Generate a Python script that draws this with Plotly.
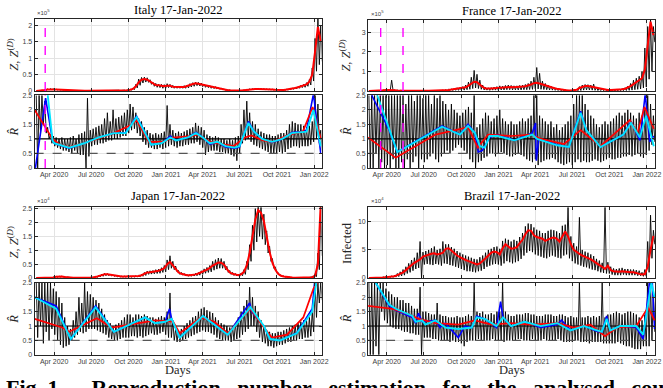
import pandas as pd
import plotly.graph_objects as go

W, H = 663, 388
WEEK0 = pd.Timestamp("2020-02-17")   # first weekly sample of the daily series

MONTH_TICKS = ["2020-04-01", "2020-07-01", "2020-10-01", "2021-01-01",
               "2021-04-01", "2021-07-01", "2021-10-01", "2022-01-01"]
MONTH_LABELS = ["Apr 2020", "Jul 2020", "Oct 2020", "Jan 2021",
                "Apr 2021", "Jul 2021", "Oct 2021", "Jan 2022"]

# ---------------- Italy ----------------
ITALY_Z_RED = [0.0, 0.003, 0.015, 0.03, 0.045, 0.055, 0.045, 0.04, 0.035, 0.03,
               0.02, 0.013, 0.009, 0.007, 0.005, 0.004, 0.003, 0.003, 0.002, 0.002,
               0.002, 0.002, 0.003, 0.003, 0.004, 0.005, 0.008, 0.012, 0.013, 0.014,
               0.015, 0.016, 0.02, 0.035, 0.06, 0.14, 0.26, 0.34, 0.36, 0.34,
               0.28, 0.22, 0.18, 0.17, 0.15, 0.14, 0.16, 0.16, 0.13, 0.12,
               0.12, 0.12, 0.12, 0.14, 0.18, 0.21, 0.23, 0.22, 0.2, 0.17,
               0.15, 0.13, 0.12, 0.1, 0.08, 0.06, 0.04, 0.03, 0.02, 0.013,
               0.009, 0.008, 0.01, 0.02, 0.035, 0.05, 0.055, 0.06, 0.06, 0.06,
               0.055, 0.05, 0.045, 0.04, 0.035, 0.03, 0.028, 0.03, 0.04, 0.05,
               0.07, 0.09, 0.11, 0.14, 0.16, 0.2, 0.28, 0.5, 1.2, 1.95,
               1.5]
ITALY_Z_HI = [0.002, 0.006, 0.02, 0.04, 0.06, 0.07, 0.06, 0.05, 0.045, 0.04,
              0.03, 0.02, 0.013, 0.01, 0.008, 0.006, 0.005, 0.004, 0.004, 0.003,
              0.003, 0.003, 0.004, 0.005, 0.006, 0.008, 0.012, 0.016, 0.018, 0.02,
              0.02, 0.022, 0.028, 0.05, 0.09, 0.2, 0.36, 0.41, 0.42, 0.4,
              0.34, 0.27, 0.23, 0.21, 0.2, 0.19, 0.22, 0.2, 0.17, 0.15,
              0.15, 0.15, 0.16, 0.18, 0.22, 0.25, 0.27, 0.26, 0.24, 0.21,
              0.18, 0.16, 0.15, 0.13, 0.1, 0.08, 0.055, 0.04, 0.028, 0.018,
              0.013, 0.012, 0.015, 0.028, 0.045, 0.06, 0.065, 0.07, 0.07, 0.07,
              0.065, 0.06, 0.055, 0.05, 0.045, 0.04, 0.036, 0.04, 0.05, 0.06,
              0.085, 0.11, 0.13, 0.17, 0.2, 0.25, 0.35, 0.7, 1.6, 2.3,
              2.0]
ITALY_Z_LO = [0.0, 0.001, 0.008, 0.018, 0.03, 0.04, 0.03, 0.028, 0.024, 0.02,
              0.012, 0.008, 0.005, 0.004, 0.003, 0.002, 0.002, 0.002, 0.001, 0.001,
              0.001, 0.001, 0.002, 0.002, 0.002, 0.003, 0.005, 0.007, 0.008, 0.009,
              0.01, 0.01, 0.013, 0.022, 0.04, 0.09, 0.17, 0.24, 0.27, 0.26,
              0.2, 0.14, 0.11, 0.1, 0.08, 0.08, 0.1, 0.1, 0.08, 0.08,
              0.08, 0.08, 0.08, 0.09, 0.12, 0.14, 0.16, 0.15, 0.13, 0.11,
              0.1, 0.08, 0.07, 0.06, 0.05, 0.04, 0.025, 0.018, 0.012, 0.008,
              0.005, 0.005, 0.006, 0.012, 0.022, 0.035, 0.04, 0.045, 0.045, 0.045,
              0.04, 0.035, 0.03, 0.028, 0.024, 0.02, 0.018, 0.02, 0.028, 0.035,
              0.05, 0.06, 0.08, 0.1, 0.11, 0.14, 0.18, 0.3, 0.6, 0.8,
              0.9]
ITALY_R_HI = [2.5, 2.5, 2.5, 2.3, 1.4, 1.15, 1.1, 1.05, 1.0, 1.05,
              1.0, 1.0, 1.05, 1.1, 1.0, 1.15, 1.2, 1.25, 2.4, 1.3,
              1.35, 1.4, 1.45, 1.5, 1.7, 1.9, 1.6, 2.0, 1.7, 1.75,
              1.8, 1.9, 2.0, 2.2, 2.1, 1.9, 1.7, 1.6, 1.4, 1.3,
              1.2, 1.15, 1.2, 1.15, 1.2, 1.25, 2.15, 1.5, 1.3, 1.2,
              1.25, 1.2, 1.25, 1.3, 1.35, 1.4, 1.55, 1.45, 1.4, 1.3,
              1.15, 1.1, 1.05, 1.1, 1.05, 1.0, 1.0, 0.95, 1.0, 0.95,
              1.05, 1.1, 1.5, 2.0, 2.3, 1.9, 1.6, 1.5, 1.35, 1.25,
              1.2, 1.15, 1.15, 1.1, 1.1, 1.15, 1.2, 1.2, 1.3, 1.5,
              1.6, 1.55, 1.5, 1.5, 1.45, 1.4, 1.45, 1.6, 2.5, 2.2,
              1.3]
ITALY_R_LO = [0.0, 1.2, 1.5, 1.2, 1.0, 0.85, 0.75, 0.7, 0.65, 0.6,
              0.6, 0.55, 0.5, 0.6, 0.5, 0.45, 0.45, 0.0, 0.4, 0.75,
              0.8, 0.8, 0.85, 0.85, 0.9, 0.95, 0.95, 1.0, 1.0, 1.05,
              1.1, 1.1, 1.2, 1.3, 1.35, 1.2, 1.1, 0.9, 0.8, 0.7,
              0.7, 0.65, 0.65, 0.7, 0.65, 0.7, 0.75, 0.8, 0.75, 0.7,
              0.75, 0.75, 0.8, 0.8, 0.85, 0.85, 0.9, 0.8, 0.7, 0.45,
              0.55, 0.6, 0.6, 0.6, 0.55, 0.55, 0.5, 0.5, 0.45, 0.4,
              0.25, 0.5, 0.85, 0.95, 1.0, 0.9, 0.8, 0.75, 0.7, 0.65,
              0.6, 0.55, 0.5, 0.5, 0.5, 0.55, 0.5, 0.55, 0.65, 0.7,
              0.75, 0.75, 0.7, 0.75, 0.75, 0.75, 0.8, 0.9, 1.0, 0.85,
              0.6]
ITALY_R_BLUE_DATES = ["2020-02-15", "2020-03-11", "2020-03-28", "2020-04-01", "2020-05-08",
                      "2020-06-14", "2020-07-20", "2020-08-26", "2020-09-24", "2020-10-21",
                      "2020-11-26", "2020-12-21", "2021-01-12", "2021-01-26", "2021-02-24",
                      "2021-03-16", "2021-04-02", "2021-04-19", "2021-05-08", "2021-05-28",
                      "2021-06-19", "2021-07-01", "2021-07-23", "2021-08-06", "2021-08-26",
                      "2021-09-19", "2021-10-14", "2021-11-07", "2021-12-01", "2021-12-13",
                      "2021-12-30", "2022-01-17"]
ITALY_R_BLUE = [0.0, 2.4, 0.95, 0.85, 0.68, 0.85, 1.05, 1.2, 1.22, 1.78,
                0.8, 0.85, 1.1, 0.95, 1.05, 1.22, 1.05, 0.82, 0.88, 0.72,
                0.68, 0.72, 1.6, 1.25, 1.0, 0.88, 1.0, 1.22, 1.25, 1.3,
                2.55, 0.5]
ITALY_R_RED_DATES = ["2020-02-13", "2020-03-28", "2020-04-15", "2020-05-08", "2020-06-14",
                     "2020-07-20", "2020-08-26", "2020-10-03", "2020-10-21", "2020-11-20",
                     "2020-12-25", "2021-01-19", "2021-03-05", "2021-03-20", "2021-04-20",
                     "2021-06-16", "2021-07-15", "2021-07-30", "2021-08-28", "2021-09-21",
                     "2021-10-31", "2021-12-04", "2021-12-28", "2022-01-17"]
ITALY_R_RED = [2.0, 1.0, 0.8, 0.72, 0.85, 1.02, 1.2, 1.45, 1.65, 0.9,
               0.9, 1.05, 1.1, 1.15, 0.9, 0.75, 1.05, 1.12, 0.95, 0.9,
               1.15, 1.25, 2.1, 1.0]
ITALY_R_CYAN_DATES = ["2020-03-08", "2020-03-28", "2020-04-01", "2020-05-08", "2020-06-14",
                      "2020-07-20", "2020-08-26", "2020-09-24", "2020-10-21", "2020-11-26",
                      "2020-12-21", "2021-01-12", "2021-01-26", "2021-02-24", "2021-03-16",
                      "2021-04-02", "2021-04-19", "2021-05-08", "2021-05-28", "2021-06-19",
                      "2021-07-01", "2021-07-23", "2021-08-06", "2021-08-26", "2021-09-19",
                      "2021-10-14", "2021-11-07", "2021-12-01", "2021-12-13", "2021-12-30",
                      "2022-01-17"]
ITALY_R_CYAN = [3.6, 0.95, 0.85, 0.7, 0.85, 1.05, 1.2, 1.2, 1.75, 0.8,
                0.85, 1.05, 0.95, 1.05, 1.2, 1.05, 0.85, 0.9, 0.75, 0.7,
                0.75, 1.55, 1.25, 1.0, 0.9, 1.0, 1.2, 1.25, 1.25, 2.0,
                0.75]
ITALY_EVENTS = ["2020-03-10"]

# ---------------- France ----------------
FRANCE_Z_RED = [0.0, 0.0, 0.001, 0.005, 0.015, 0.03, 0.04, 0.045, 0.04, 0.03,
                0.02, 0.015, 0.01, 0.005, 0.004, 0.004, 0.004, 0.004, 0.004, 0.005,
                0.005, 0.006, 0.008, 0.01, 0.012, 0.018, 0.025, 0.035, 0.05, 0.07,
                0.09, 0.11, 0.12, 0.14, 0.19, 0.27, 0.38, 0.47, 0.45, 0.32,
                0.2, 0.12, 0.11, 0.12, 0.14, 0.15, 0.17, 0.18, 0.2, 0.21,
                0.2, 0.19, 0.19, 0.2, 0.22, 0.24, 0.27, 0.33, 0.4, 0.42,
                0.38, 0.33, 0.27, 0.22, 0.18, 0.15, 0.11, 0.08, 0.05, 0.035,
                0.025, 0.02, 0.03, 0.06, 0.15, 0.22, 0.25, 0.25, 0.22, 0.18,
                0.14, 0.1, 0.08, 0.06, 0.05, 0.045, 0.045, 0.05, 0.06, 0.08,
                0.11, 0.16, 0.25, 0.35, 0.45, 0.55, 0.65, 1.1, 2.5, 3.55,
                2.85]
FRANCE_Z_HI = [0.001, 0.002, 0.005, 0.01, 0.03, 0.05, 0.07, 0.06, 0.55, 0.05,
               0.04, 0.03, 0.02, 0.01, 0.008, 0.008, 0.008, 0.008, 0.008, 0.009,
               0.01, 0.01, 0.012, 0.015, 0.02, 0.03, 0.04, 0.06, 0.08, 0.11,
               0.13, 0.16, 0.17, 0.22, 0.3, 0.45, 0.7, 1.05, 0.85, 0.55,
               0.3, 0.18, 0.16, 0.17, 0.2, 0.22, 0.26, 0.25, 0.28, 0.3,
               0.28, 0.26, 0.26, 0.28, 0.3, 0.33, 0.38, 0.5, 0.7, 1.2,
               0.9, 0.5, 0.38, 0.3, 0.25, 0.2, 0.15, 0.11, 0.07, 0.05,
               0.035, 0.03, 0.045, 0.09, 0.22, 0.3, 0.33, 0.32, 0.3, 0.35,
               0.2, 0.14, 0.11, 0.09, 0.07, 0.065, 0.065, 0.07, 0.08, 0.12,
               0.16, 0.24, 0.38, 0.55, 0.65, 0.75, 1.0, 2.2, 3.3, 3.65,
               3.3]
FRANCE_Z_LO = [0.0, 0.0, 0.0, 0.001, 0.005, 0.01, 0.015, 0.02, 0.015, 0.01,
               0.008, 0.005, 0.003, 0.002, 0.001, 0.001, 0.001, 0.001, 0.001, 0.001,
               0.001, 0.002, 0.003, 0.004, 0.005, 0.006, 0.01, 0.012, 0.015, 0.02,
               0.03, 0.03, 0.04, 0.04, 0.06, 0.08, 0.12, 0.15, 0.12, 0.08,
               0.05, 0.04, 0.03, 0.04, 0.04, 0.03, 0.05, 0.05, 0.06, 0.06,
               0.05, 0.05, 0.05, 0.05, 0.06, 0.06, 0.07, 0.08, 0.1, 0.1,
               0.08, 0.07, 0.06, 0.05, 0.04, 0.03, 0.02, 0.015, 0.01, 0.008,
               0.005, 0.004, 0.005, 0.01, 0.02, 0.04, 0.05, 0.05, 0.04, 0.03,
               0.02, 0.02, 0.015, 0.012, 0.01, 0.01, 0.01, 0.01, 0.012, 0.015,
               0.02, 0.03, 0.04, 0.06, 0.08, 0.1, 0.15, 0.2, 0.6, 1.0,
               2.5]
FRANCE_R_HI = [2.5, 2.5, 2.5, 2.5, 2.5, 2.5, 2.5, 2.5, 2.5, 2.5,
               2.5, 2.5, 2.5, 2.2, 2.5, 2.5, 2.3, 2.5, 2.5, 2.4,
               2.5, 2.5, 2.2, 2.5, 2.4, 2.5, 2.3, 2.2, 2.0, 2.2,
               2.0, 1.9, 1.8, 1.9, 2.0, 2.1, 1.9, 2.5, 1.4, 1.5,
               1.7, 1.9, 1.8, 1.6, 1.7, 1.8, 2.0, 1.7, 1.6, 1.5,
               1.6, 1.5, 1.5, 1.6, 1.7, 1.6, 1.7, 1.8, 2.5, 2.5,
               1.8, 1.7, 1.6, 1.5, 1.6, 1.4, 1.5, 1.3, 1.4, 1.5,
               1.6, 1.8, 2.2, 2.5, 2.5, 2.5, 2.2, 2.0, 1.8, 1.7,
               1.5, 1.4, 1.5, 1.6, 1.5, 1.6, 1.7, 1.8, 1.9, 1.8,
               1.9, 2.0, 1.9, 1.8, 1.7, 1.9, 1.8, 2.0, 2.5, 2.2,
               1.8]
FRANCE_R_LO = [0.0, 0.0, 0.5, 0.0, 0.2, 0.0, 0.1, 0.0, 0.3, 0.0,
               0.0, 0.2, 0.0, 0.3, 0.0, 0.2, 0.4, 0.0, 0.3, 0.2,
               0.3, 0.4, 0.5, 0.3, 0.2, 0.4, 0.5, 0.6, 0.5, 0.6,
               0.7, 0.8, 0.7, 0.6, 0.5, 0.3, 0.2, 0.0, 0.2, 0.25,
               0.35, 0.4, 0.5, 0.5, 0.4, 0.5, 0.55, 0.5, 0.45, 0.4,
               0.4, 0.45, 0.5, 0.45, 0.4, 0.3, 0.25, 0.2, 0.3, 0.1,
               0.2, 0.25, 0.3, 0.3, 0.35, 0.3, 0.2, 0.15, 0.1, 0.15,
               0.2, 0.1, 0.2, 0.3, 0.2, 0.25, 0.2, 0.2, 0.25, 0.3,
               0.25, 0.2, 0.25, 0.3, 0.35, 0.3, 0.3, 0.35, 0.35, 0.4,
               0.4, 0.45, 0.4, 0.45, 0.5, 0.4, 0.35, 0.45, 0.6, 0.8,
               0.9]
FRANCE_R_BLUE_DATES = ["2020-02-18", "2020-02-26", "2020-04-07", "2020-04-27", "2020-08-15",
                       "2020-09-28", "2020-10-18", "2020-11-04", "2020-11-12", "2020-11-22",
                       "2020-12-10", "2020-12-30", "2021-02-09", "2021-03-25", "2021-04-02",
                       "2021-04-04", "2021-04-10", "2021-05-25", "2021-06-23", "2021-07-22",
                       "2021-08-05", "2021-09-09", "2021-11-04", "2021-11-23", "2021-12-15",
                       "2021-12-28", "2022-01-08", "2022-01-18"]
FRANCE_R_BLUE = [3.0, 2.45, 1.3, 0.55, 1.45, 1.15, 1.5, 1.2, 0.55, 0.6,
                 1.05, 1.15, 0.95, 1.2, 1.55, 0.25, 1.0, 0.8, 0.72, 1.95,
                 1.3, 0.72, 1.15, 1.6, 0.95, 2.55, 0.9, 1.1]
FRANCE_R_RED_DATES = ["2020-02-15", "2020-04-23", "2020-07-30", "2020-10-18", "2020-11-11",
                      "2020-12-06", "2021-02-02", "2021-03-22", "2021-04-16", "2021-06-11",
                      "2021-07-22", "2021-09-09", "2021-11-20", "2021-12-09", "2021-12-26",
                      "2022-01-18"]
FRANCE_R_RED = [1.05, 0.35, 1.15, 1.4, 0.7, 1.15, 1.1, 1.15, 1.0, 0.82,
                1.3, 0.75, 1.65, 1.2, 2.1, 1.35]
FRANCE_R_CYAN_DATES = ["2020-02-22", "2020-03-10", "2020-04-27", "2020-08-15", "2020-09-28",
                       "2020-10-18", "2020-11-04", "2020-11-16", "2020-11-28", "2020-12-10",
                       "2020-12-30", "2021-02-09", "2021-03-25", "2021-04-06", "2021-05-25",
                       "2021-06-23", "2021-07-22", "2021-08-05", "2021-09-09", "2021-11-04",
                       "2021-11-23", "2021-12-15", "2021-12-30", "2022-01-18"]
FRANCE_R_CYAN = [3.2, 2.45, 0.55, 1.42, 1.15, 1.45, 1.2, 0.75, 0.7, 1.1,
                 1.1, 0.95, 1.15, 1.0, 0.78, 0.72, 1.9, 1.3, 0.72, 1.15,
                 1.55, 1.05, 1.8, 0.75]
FRANCE_EVENTS = ["2020-03-17", "2020-05-11"]

# ---------------- Japan ----------------
JAPAN_Z_RED = [0.001, 0.002, 0.003, 0.004, 0.005, 0.01, 0.02, 0.04, 0.055, 0.05,
               0.035, 0.02, 0.01, 0.005, 0.004, 0.004, 0.004, 0.005, 0.006, 0.01,
               0.02, 0.04, 0.07, 0.1, 0.13, 0.13, 0.11, 0.09, 0.07, 0.055,
               0.05, 0.05, 0.05, 0.05, 0.055, 0.06, 0.07, 0.1, 0.15, 0.2,
               0.21, 0.22, 0.24, 0.26, 0.3, 0.35, 0.5, 0.58, 0.45, 0.33,
               0.2, 0.15, 0.12, 0.1, 0.1, 0.11, 0.13, 0.16, 0.2, 0.26,
               0.3, 0.36, 0.45, 0.5, 0.56, 0.55, 0.48, 0.32, 0.2, 0.15,
               0.12, 0.1, 0.13, 0.22, 0.45, 0.9, 1.5, 2.1, 2.45, 2.35,
               2.05, 1.45, 0.95, 0.55, 0.3, 0.15, 0.08, 0.05, 0.03, 0.02,
               0.015, 0.012, 0.012, 0.012, 0.012, 0.012, 0.015, 0.03, 0.08, 0.5,
               2.7]
JAPAN_Z_HI = [0.002, 0.003, 0.005, 0.007, 0.008, 0.015, 0.035, 0.06, 0.07, 0.065,
              0.045, 0.03, 0.015, 0.008, 0.006, 0.006, 0.006, 0.007, 0.01, 0.015,
              0.03, 0.06, 0.1, 0.14, 0.17, 0.16, 0.14, 0.11, 0.09, 0.07,
              0.065, 0.065, 0.065, 0.065, 0.07, 0.08, 0.09, 0.13, 0.2, 0.25,
              0.26, 0.27, 0.3, 0.32, 0.37, 0.45, 0.65, 0.8, 0.6, 0.43,
              0.27, 0.2, 0.16, 0.13, 0.13, 0.14, 0.17, 0.2, 0.26, 0.33,
              0.38, 0.45, 0.6, 0.66, 0.72, 0.7, 0.6, 0.42, 0.27, 0.2,
              0.16, 0.14, 0.18, 0.3, 0.6, 1.2, 1.9, 2.5, 2.6, 2.55,
              2.3, 1.7, 1.15, 0.7, 0.4, 0.2, 0.11, 0.07, 0.04, 0.03,
              0.02, 0.017, 0.017, 0.017, 0.017, 0.017, 0.02, 0.04, 0.15, 0.9,
              2.6]
JAPAN_Z_LO = [0.0, 0.001, 0.001, 0.002, 0.002, 0.005, 0.01, 0.02, 0.035, 0.03,
              0.02, 0.01, 0.005, 0.003, 0.002, 0.002, 0.002, 0.003, 0.003, 0.005,
              0.01, 0.02, 0.04, 0.06, 0.08, 0.08, 0.07, 0.06, 0.045, 0.035,
              0.03, 0.03, 0.03, 0.03, 0.035, 0.035, 0.04, 0.06, 0.09, 0.13,
              0.14, 0.15, 0.16, 0.17, 0.2, 0.22, 0.3, 0.35, 0.3, 0.22,
              0.13, 0.1, 0.07, 0.06, 0.06, 0.07, 0.08, 0.1, 0.13, 0.17,
              0.2, 0.22, 0.28, 0.32, 0.35, 0.35, 0.3, 0.2, 0.13, 0.09,
              0.07, 0.06, 0.08, 0.13, 0.3, 0.6, 1.0, 1.3, 1.5, 1.4,
              1.2, 0.9, 0.6, 0.35, 0.2, 0.1, 0.05, 0.03, 0.02, 0.012,
              0.008, 0.007, 0.007, 0.007, 0.007, 0.007, 0.009, 0.015, 0.05, 0.3,
              0.8]
JAPAN_R_HI = [2.5, 2.5, 2.5, 2.5, 2.5, 2.5, 2.3, 2.2, 2.0, 1.8,
              1.3, 1.0, 0.9, 1.2, 1.5, 2.0, 1.8, 2.5, 2.2, 2.1,
              2.0, 1.9, 1.8, 1.6, 1.4, 1.2, 1.1, 1.0, 1.05, 1.1,
              1.2, 1.3, 1.4, 1.4, 1.3, 1.4, 1.4, 1.35, 1.4, 1.35,
              1.3, 1.3, 1.25, 1.3, 1.35, 1.3, 1.5, 2.15, 1.2, 0.9,
              0.85, 0.9, 1.0, 1.1, 1.2, 1.3, 1.35, 1.5, 1.6, 1.65,
              1.55, 1.5, 1.45, 1.3, 1.2, 1.1, 1.05, 1.0, 0.95, 1.0,
              1.1, 1.3, 1.5, 1.7, 1.9, 2.35, 2.0, 1.7, 1.5, 1.2,
              1.0, 0.85, 0.8, 0.75, 0.75, 0.8, 0.8, 0.85, 0.9, 0.95,
              1.0, 1.05, 1.1, 1.15, 1.2, 1.2, 1.3, 1.5, 2.5, 2.5,
              2.5]
JAPAN_R_LO = [0.6, 1.0, 0.4, 0.8, 0.5, 0.9, 0.7, 0.5, 0.35, 0.25,
              0.3, 0.35, 0.5, 0.6, 0.7, 0.8, 0.75, 0.8, 0.9, 0.9,
              0.9, 0.85, 0.8, 0.75, 0.7, 0.6, 0.55, 0.5, 0.5, 0.55,
              0.6, 0.6, 0.6, 0.65, 0.65, 0.6, 0.65, 0.6, 0.65, 0.7,
              0.75, 0.7, 0.7, 0.75, 0.8, 0.7, 0.6, 0.6, 0.5, 0.45,
              0.45, 0.5, 0.55, 0.6, 0.65, 0.7, 0.75, 0.8, 0.85, 0.8,
              0.8, 0.75, 0.7, 0.6, 0.55, 0.5, 0.5, 0.5, 0.45, 0.5,
              0.55, 0.6, 0.7, 0.8, 0.9, 1.0, 1.0, 0.8, 0.6, 0.45,
              0.4, 0.3, 0.3, 0.25, 0.3, 0.35, 0.35, 0.4, 0.45, 0.45,
              0.5, 0.5, 0.55, 0.55, 0.6, 0.6, 0.65, 0.8, 1.3, 1.8,
              1.9]
JAPAN_R_BLUE_DATES = ["2020-02-13", "2020-03-28", "2020-04-06", "2020-05-12", "2020-07-12",
                      "2020-08-26", "2020-11-11", "2020-12-05", "2020-12-30", "2021-01-10",
                      "2021-01-15", "2021-02-04", "2021-04-02", "2021-04-21", "2021-06-02",
                      "2021-07-26", "2021-07-31", "2021-08-30", "2021-09-14", "2021-10-09",
                      "2021-11-19", "2021-12-27", "2022-01-03", "2022-01-17"]
JAPAN_R_BLUE = [2.0, 1.75, 1.7, 0.55, 1.7, 0.8, 1.3, 1.1, 1.15, 1.6,
                1.25, 0.6, 1.35, 1.15, 0.7, 1.8, 1.5, 1.0, 0.55, 0.5,
                0.76, 1.6, 2.7, 2.6]
JAPAN_R_RED_DATES = ["2020-02-13", "2020-04-21", "2020-05-08", "2020-07-15", "2020-08-21",
                     "2020-12-06", "2021-01-19", "2021-02-04", "2021-03-28", "2021-04-30",
                     "2021-06-02", "2021-07-28", "2021-08-30", "2021-09-19", "2021-10-26",
                     "2021-12-05", "2021-12-30", "2022-01-11", "2022-01-17"]
JAPAN_R_RED = [1.25, 0.95, 0.8, 1.27, 0.95, 1.2, 1.15, 0.75, 1.3, 1.15,
               0.75, 1.6, 0.95, 0.6, 0.7, 1.3, 2.3, 2.55, 2.6]
JAPAN_R_CYAN_DATES = ["2020-02-13", "2020-04-06", "2020-05-12", "2020-07-12", "2020-08-26",
                      "2020-11-11", "2020-12-05", "2020-12-30", "2021-01-15", "2021-02-04",
                      "2021-04-02", "2021-04-21", "2021-06-02", "2021-07-28", "2021-08-30",
                      "2021-09-14", "2021-10-09", "2021-11-19", "2021-12-27", "2022-01-07",
                      "2022-01-17"]
JAPAN_R_CYAN = [2.0, 1.6, 0.55, 1.65, 0.8, 1.3, 1.1, 1.15, 1.25, 0.6,
                1.35, 1.15, 0.7, 1.65, 1.0, 0.55, 0.5, 0.75, 1.5, 2.6,
                2.8]
JAPAN_EVENTS = []

# ---------------- Brazil ----------------
BRAZIL_Z_RED = [0.0, 0.0, 0.0, 0.01, 0.03, 0.1, 0.15, 0.2, 0.25, 0.3,
                0.5, 0.7, 1.0, 1.4, 1.9, 2.3, 2.7, 3.0, 3.3, 3.8,
                4.0, 4.2, 4.3, 4.4, 4.2, 4.3, 4.5, 5.2, 5.3, 4.9,
                4.4, 4.0, 3.7, 3.4, 3.2, 3.0, 2.8, 2.6, 2.4, 2.6,
                3.0, 3.5, 4.0, 4.5, 4.7, 4.6, 4.2, 5.3, 6.0, 5.6,
                5.2, 5.3, 5.5, 6.2, 6.8, 7.8, 8.5, 8.4, 7.6, 7.3,
                7.2, 7.0, 6.6, 6.9, 7.1, 7.2, 7.0, 6.5, 7.4, 8.3,
                7.4, 6.0, 5.0, 4.6, 4.3, 4.0, 3.8, 3.6, 3.3, 3.0,
                2.6, 2.3, 2.0, 1.6, 2.2, 1.4, 1.2, 1.1, 1.1, 1.2,
                1.1, 1.1, 1.0, 1.0, 0.9, 0.8, 0.6, 0.7, 2.0, 5.0,
                7.5]
BRAZIL_Z_HI = [0.0, 0.0, 0.01, 0.02, 0.06, 0.2, 0.3, 0.35, 0.4, 0.5,
               0.8, 1.1, 1.5, 2.0, 2.6, 3.2, 3.6, 4.5, 6.5, 4.6,
               4.8, 5.0, 5.3, 5.6, 5.0, 5.2, 6.5, 6.0, 6.0, 5.5,
               5.2, 4.8, 4.5, 4.2, 4.0, 3.8, 3.6, 3.4, 3.3, 3.7,
               4.0, 4.5, 5.0, 5.2, 5.5, 5.6, 5.2, 6.6, 7.0, 6.8,
               6.5, 6.8, 6.6, 7.3, 8.0, 9.2, 9.7, 9.6, 9.0, 8.6,
               8.4, 8.0, 8.0, 8.4, 8.6, 8.5, 8.3, 8.0, 9.3, 9.5,
               12.6, 7.4, 6.2, 5.6, 10.8, 5.0, 4.7, 4.5, 4.2, 3.9,
               3.4, 3.1, 2.7, 12.6, 2.8, 2.0, 1.7, 1.6, 1.7, 1.8,
               1.6, 1.6, 1.5, 1.5, 1.4, 1.3, 1.0, 1.5, 6.5, 11.2,
               8.5]
BRAZIL_Z_LO = [0.0, 0.0, 0.0, 0.0, 0.01, 0.03, 0.05, 0.08, 0.1, 0.15,
               0.25, 0.35, 0.5, 0.8, 1.0, 1.3, 1.6, 1.8, 0.0, 2.4,
               2.5, 2.4, 2.3, 2.5, 2.4, 2.2, 2.6, 2.5, 2.3, 2.2,
               2.0, 1.8, 1.6, 1.4, 1.2, 1.2, 1.1, 1.0, 1.2, 1.3,
               1.6, 2.0, 2.2, 2.4, 2.5, 2.4, 2.2, 2.6, 3.0, 2.8,
               2.6, 2.8, 3.0, 3.4, 4.0, 4.5, 4.8, 4.6, 4.2, 4.0,
               3.8, 3.6, 3.5, 3.8, 4.0, 3.8, 3.6, 3.5, 4.0, 4.2,
               3.5, 3.0, 2.6, 2.4, 2.2, 2.0, 1.9, 1.7, 1.5, 1.4,
               1.2, 1.0, 0.9, 0.8, 0.8, 0.6, 0.5, 0.5, 0.5, 0.6,
               0.5, 0.5, 0.5, 0.5, 0.4, 0.4, 0.3, 0.3, 1.0, 3.5,
               6.0]
BRAZIL_R_HI = [2.5, 2.5, 2.5, 2.5, 2.5, 2.5, 2.3, 2.2, 2.1, 2.0,
               2.0, 1.9, 1.9, 1.8, 1.8, 1.7, 1.6, 1.6, 2.35, 1.5,
               1.5, 1.45, 1.4, 1.4, 1.8, 1.4, 1.35, 1.35, 1.3, 1.3,
               1.3, 1.35, 1.3, 1.3, 1.35, 1.4, 1.35, 2.5, 1.5, 1.45,
               1.5, 1.4, 1.4, 1.45, 1.4, 1.5, 1.5, 2.5, 1.5, 1.4,
               1.35, 1.35, 1.4, 1.4, 1.4, 1.45, 1.45, 1.4, 1.4, 1.35,
               1.35, 1.35, 1.4, 1.4, 1.4, 1.35, 1.35, 1.4, 1.4, 1.35,
               1.3, 1.35, 1.3, 1.3, 2.5, 1.3, 1.3, 1.35, 1.3, 1.35,
               1.3, 1.35, 2.5, 1.3, 1.4, 1.4, 1.45, 1.5, 1.45, 1.4,
               1.45, 1.5, 1.5, 1.45, 1.4, 1.3, 1.2, 1.4, 2.5, 2.5,
               2.2]
BRAZIL_R_LO = [0.0, 0.0, 0.3, 0.0, 1.5, 1.2, 1.1, 1.0, 0.95, 0.9,
               0.9, 0.85, 0.8, 0.8, 0.75, 0.75, 0.7, 0.7, 0.0, 0.6,
               0.6, 0.6, 0.55, 0.55, 0.5, 0.5, 0.5, 0.5, 0.45, 0.5,
               0.45, 0.45, 0.4, 0.3, 0.45, 0.5, 0.5, 0.5, 0.55, 0.5,
               0.5, 0.5, 0.5, 0.55, 0.5, 0.5, 0.5, 0.45, 0.5, 0.5,
               0.5, 0.5, 0.55, 0.55, 0.5, 0.5, 0.5, 0.55, 0.5, 0.5,
               0.5, 0.55, 0.5, 0.5, 0.5, 0.5, 0.55, 0.5, 0.45, 0.45,
               0.45, 0.45, 0.5, 0.5, 0.45, 0.45, 0.45, 0.4, 0.45, 0.45,
               0.45, 0.45, 0.4, 0.4, 0.4, 0.4, 0.4, 0.45, 0.4, 0.35,
               0.3, 0.3, 0.25, 0.2, 0.2, 0.2, 0.3, 0.3, 0.3, 0.5,
               0.8]
BRAZIL_R_BLUE_DATES = ["2020-02-20", "2020-03-05", "2020-04-07", "2020-04-23", "2020-06-03",
                       "2020-06-11", "2020-06-18", "2020-06-27", "2020-07-30", "2020-08-10",
                       "2020-08-23", "2020-09-05", "2020-09-24", "2020-10-10", "2020-10-27",
                       "2020-11-08", "2020-11-28", "2020-12-27", "2021-01-06", "2021-01-12",
                       "2021-02-01", "2021-03-06", "2021-04-15", "2021-05-26", "2021-06-05",
                       "2021-06-27", "2021-07-30", "2021-09-12", "2021-09-24", "2021-10-03",
                       "2021-10-27", "2021-12-06", "2021-12-23", "2022-01-08", "2022-01-14",
                       "2022-01-20"]
BRAZIL_R_BLUE = [3.0, 2.5, 1.7, 1.55, 1.3, 1.1, 1.45, 1.15, 1.2, 0.95,
                 1.1, 0.9, 0.6, 1.0, 0.95, 1.35, 1.25, 0.95, 1.85, 1.3,
                 1.0, 1.15, 0.95, 1.05, 1.2, 0.85, 1.0, 0.75, 1.35, 0.85,
                 1.0, 0.95, 0.55, 2.6, 2.6, 0.9]
BRAZIL_R_RED_DATES = ["2020-02-15", "2020-04-15", "2020-05-26", "2020-06-19", "2020-07-30",
                      "2020-09-24", "2020-11-04", "2020-12-15", "2021-02-01", "2021-03-22",
                      "2021-05-26", "2021-07-05", "2021-08-15", "2021-09-20", "2021-10-19",
                      "2021-12-06", "2022-01-04", "2022-01-20"]
BRAZIL_R_RED = [1.7, 1.6, 1.4, 1.25, 1.1, 1.05, 1.2, 1.05, 1.1, 1.05,
                1.1, 0.95, 1.05, 0.65, 0.95, 1.0, 1.65, 1.2]
BRAZIL_R_CYAN_DATES = ["2020-02-20", "2020-03-05", "2020-04-07", "2020-04-23", "2020-06-03",
                       "2020-06-11", "2020-06-27", "2020-07-05", "2020-07-30", "2020-08-23",
                       "2020-09-24", "2020-10-27", "2020-11-08", "2020-11-28", "2020-12-27",
                       "2021-01-12", "2021-02-01", "2021-03-06", "2021-04-15", "2021-05-26",
                       "2021-06-27", "2021-07-30", "2021-09-12", "2021-09-24", "2021-10-03",
                       "2021-10-27", "2021-12-06", "2021-12-23", "2022-01-12", "2022-01-20"]
BRAZIL_R_CYAN = [3.0, 2.5, 1.75, 1.6, 1.35, 1.15, 1.2, 1.05, 1.2, 0.95,
                 0.9, 0.95, 1.3, 1.25, 1.0, 1.3, 1.0, 1.15, 1.0, 1.1,
                 0.85, 1.0, 0.8, 1.25, 0.85, 1.0, 1.0, 0.7, 2.5, 2.0]
BRAZIL_EVENTS = []

R_THRESHOLD = 1.0
R_LOW = 0.5

CAPTION = ("<b>Fig. 1.&nbsp;&nbsp;&nbsp;&nbsp; Reproduction&nbsp;&nbsp; number&nbsp;&nbsp; "
           "estimation&nbsp;&nbsp; for&nbsp;&nbsp; the&nbsp;&nbsp; analysed&nbsp;&nbsp; countries</b>")

# ---------------- figure layout (pixel geometry of the page) ----------------
def xdom(a, b):
    return [a / W, b / W]


def ydom(top, bottom):
    return [1 - bottom / H, 1 - top / H]


def px_x(p):
    return p / W


def px_y(p):
    return 1 - p / H


COUNTRIES = [
    dict(title="Italy 17-Jan-2022", xpx=(35, 325), top=(15, 88.5), bot=(93, 167),
         xrange=["2020-02-13", "2022-01-19"], zrange=[0, 2.2], zticks=[0, 0.5, 1, 1.5, 2],
         exp="5", zlabel="<i>Z</i>, <i>Z</i><sup>(<i>D</i>)</sup>", zlabel_x=13,
         z=(ITALY_Z_RED, ITALY_Z_HI, ITALY_Z_LO),
         r=(ITALY_R_HI, ITALY_R_LO),
         blue=(ITALY_R_BLUE_DATES, ITALY_R_BLUE), red=(ITALY_R_RED_DATES, ITALY_R_RED),
         cyan=(ITALY_R_CYAN_DATES, ITALY_R_CYAN), events=ITALY_EVENTS, title_y=6),
    dict(title="France 17-Jan-2022", xpx=(372, 662), top=(16, 88.5), bot=(93, 167),
         xrange=["2020-02-15", "2022-01-21"], zrange=[0, 3.65], zticks=[0, 1, 2, 3],
         exp="5", zlabel="<i>Z</i>, <i>Z</i><sup>(<i>D</i>)</sup>", zlabel_x=349,
         z=(FRANCE_Z_RED, FRANCE_Z_HI, FRANCE_Z_LO),
         r=(FRANCE_R_HI, FRANCE_R_LO),
         blue=(FRANCE_R_BLUE_DATES, FRANCE_R_BLUE), red=(FRANCE_R_RED_DATES, FRANCE_R_RED),
         cyan=(FRANCE_R_CYAN_DATES, FRANCE_R_CYAN), events=FRANCE_EVENTS, title_y=7),
    dict(title="Japan 17-Jan-2022", xpx=(35, 325), top=(207, 279), bot=(284, 357.3),
         xrange=["2020-02-13", "2022-01-19"], zrange=[0, 2.55], zticks=[0, 0.5, 1, 1.5, 2, 2.5],
         exp="4", zlabel="<i>Z</i>, <i>Z</i><sup>(<i>D</i>)</sup>", zlabel_x=13,
         z=(JAPAN_Z_RED, JAPAN_Z_HI, JAPAN_Z_LO),
         r=(JAPAN_R_HI, JAPAN_R_LO),
         blue=(JAPAN_R_BLUE_DATES, JAPAN_R_BLUE), red=(JAPAN_R_RED_DATES, JAPAN_R_RED),
         cyan=(JAPAN_R_CYAN_DATES, JAPAN_R_CYAN), events=JAPAN_EVENTS, title_y=196),
    dict(title="Brazil 17-Jan-2022", xpx=(372, 662), top=(207, 279), bot=(284, 357.3),
         xrange=["2020-02-15", "2022-01-21"], zrange=[0, 12.6], zticks=[0, 5, 10],
         exp="4", zlabel="Infected", zlabel_x=350,
         z=(BRAZIL_Z_RED, BRAZIL_Z_HI, BRAZIL_Z_LO),
         r=(BRAZIL_R_HI, BRAZIL_R_LO),
         blue=(BRAZIL_R_BLUE_DATES, BRAZIL_R_BLUE), red=(BRAZIL_R_RED_DATES, BRAZIL_R_RED),
         cyan=(BRAZIL_R_CYAN_DATES, BRAZIL_R_CYAN), events=BRAZIL_EVENTS, title_y=196),
]


def weekly(n):
    return [WEEK0 + pd.Timedelta(days=7 * i) for i in range(n)]


def zigzag(hi, lo):
    xs, ys = [], []
    for t, h, l in zip(weekly(len(hi)), hi, lo):
        xs += [t, t + pd.Timedelta(hours=84)]
        ys += [h, l]
    return xs, ys


AX = "#262626"
GRID = "#e3e3e3"
TICKFONT = dict(family="Liberation Sans, Arial, sans-serif", size=7, color="#404040")
SERIF = "Liberation Serif, Times New Roman, serif"

fig = go.Figure()
annotations = []
axes_layout = {}


def axname(n, kind):
    return kind + ("" if n == 1 else str(n))


for i, c in enumerate(COUNTRIES):
    nt, nb = 2 * i + 1, 2 * i + 2
    for n, show in ((nt, False), (nb, True)):
        axes_layout[axname(n, "xaxis")] = dict(
            domain=xdom(*c["xpx"]), anchor=axname(n, "y"), type="date", range=c["xrange"],
            tickvals=MONTH_TICKS, ticktext=MONTH_LABELS, showticklabels=show,
            showgrid=True, gridcolor=GRID, gridwidth=1, zeroline=False,
            ticks="inside", ticklen=3, tickcolor=AX, showline=True, linecolor=AX,
            linewidth=1, mirror="ticks", tickfont=TICKFONT, tickangle=0)
    axes_layout[axname(nt, "yaxis")] = dict(
        domain=ydom(*c["top"]), anchor=axname(nt, "x"), range=c["zrange"],
        tickvals=c["zticks"], showgrid=True, gridcolor=GRID, zeroline=False,
        ticks="inside", ticklen=3, tickcolor=AX, showline=True, linecolor=AX,
        linewidth=1, mirror="ticks", tickfont=TICKFONT)
    axes_layout[axname(nb, "yaxis")] = dict(
        domain=ydom(*c["bot"]), anchor=axname(nb, "x"), range=[0, 2.5],
        tickvals=[0, 0.5, 1, 1.5, 2, 2.5], showgrid=True, gridcolor=GRID, zeroline=False,
        ticks="inside", ticklen=3, tickcolor=AX, showline=True, linecolor=AX,
        linewidth=1, mirror="ticks", tickfont=TICKFONT)

    xt, yt = axname(nt, "x"), axname(nt, "y")
    xb, yb = axname(nb, "x"), axname(nb, "y")

    # top panel: daily data (black) and smoothed (red)
    red, hi, lo = c["z"]
    zx, zy = zigzag(hi, lo)
    fig.add_trace(go.Scatter(x=zx, y=zy, mode="lines", line=dict(color="black", width=0.9),
                             xaxis=xt, yaxis=yt, hoverinfo="skip"))
    fig.add_trace(go.Scatter(x=weekly(len(red)), y=red, mode="lines",
                             line=dict(color="#ff0000", width=2), xaxis=xt, yaxis=yt))

    # bottom panel: R estimates
    rx, ry = zigzag(*c["r"])
    fig.add_trace(go.Scatter(x=rx, y=ry, mode="lines", line=dict(color="black", width=0.9),
                             xaxis=xb, yaxis=yb, hoverinfo="skip"))
    # reference levels R = 1 (solid) and R = 0.5 (dashed) across the axis range
    fig.add_trace(go.Scatter(x=c["xrange"], y=[R_THRESHOLD, R_THRESHOLD], mode="lines",
                             line=dict(color="black", width=1.1), xaxis=xb, yaxis=yb))
    fig.add_trace(go.Scatter(x=c["xrange"], y=[R_LOW, R_LOW], mode="lines",
                             line=dict(color="#555555", width=1.3, dash="dash"),
                             xaxis=xb, yaxis=yb))
    fig.add_trace(go.Scatter(x=c["blue"][0], y=c["blue"][1], mode="lines",
                             line=dict(color="#0000ff", width=1.6), xaxis=xb, yaxis=yb))
    fig.add_trace(go.Scatter(x=c["red"][0], y=c["red"][1], mode="lines",
                             line=dict(color="#ff0000", width=1.7), xaxis=xb, yaxis=yb))
    fig.add_trace(go.Scatter(x=c["cyan"][0], y=c["cyan"][1], mode="lines",
                             line=dict(color="#00e5ff", width=1.9), xaxis=xb, yaxis=yb))

    for ev in c["events"]:
        for xa, yr in ((xt, c["zrange"]), (xb, [0, 2.5])):
            fig.add_trace(go.Scatter(x=[ev, ev], y=yr, mode="lines",
                                     line=dict(color="#ff00ff", width=1.4, dash="dash"),
                                     xaxis=xa, yaxis=xa.replace("x", "y")))

    # texts
    cx = (c["xpx"][0] + c["xpx"][1]) / 2
    annotations.append(dict(text=c["title"], x=px_x(cx), y=px_y(c["title_y"]), xref="paper",
                            yref="paper", showarrow=False, xanchor="center", yanchor="middle",
                            font=dict(family=SERIF, size=12.5, color="black")))
    annotations.append(dict(text="×10<sup>" + c["exp"] + "</sup>", x=px_x(c["xpx"][0] + 0.5),
                            y=px_y(c["top"][0] - 1), xref="paper", yref="paper", showarrow=False,
                            xanchor="left", yanchor="bottom",
                            font=dict(family="Liberation Sans, Arial", size=6, color="#404040")))
    zl_style = dict(family=SERIF, size=12.5, color="#262626")
    annotations.append(dict(text=c["zlabel"], x=px_x(c["zlabel_x"]),
                            y=px_y((c["top"][0] + c["top"][1]) / 2), xref="paper", yref="paper",
                            showarrow=False, textangle=-90, xanchor="center", yanchor="middle",
                            font=zl_style))
    annotations.append(dict(text="<i>R̂</i>", x=px_x(c["zlabel_x"] + 1),
                            y=px_y((c["bot"][0] + c["bot"][1]) / 2), xref="paper", yref="paper",
                            showarrow=False, textangle=-90, xanchor="center", yanchor="middle",
                            font=zl_style))
    if i >= 2:
        annotations.append(dict(text="Days", x=px_x(cx), y=px_y(373), xref="paper", yref="paper",
                                showarrow=False, xanchor="center", yanchor="middle",
                                font=dict(family=SERIF, size=12.5, color="#262626")))

annotations.append(dict(text=CAPTION, x=px_x(4), y=px_y(376), xref="paper", yref="paper",
                        showarrow=False, xanchor="left", yanchor="top",
                        font=dict(family=SERIF, size=22, color="black")))

fig.update_layout(width=W, height=H, autosize=False, margin=dict(l=0, r=0, t=0, b=0, pad=0),
                  paper_bgcolor="white", plot_bgcolor="white", showlegend=False,
                  annotations=annotations, **axes_layout)
fig.write_html("out.html", config={"responsive": False, "displayModeBar": False},
               post_script="document.body.style.margin='0px';"
                           "document.body.style.padding='0px';"
                           "document.body.style.overflow='hidden';")
